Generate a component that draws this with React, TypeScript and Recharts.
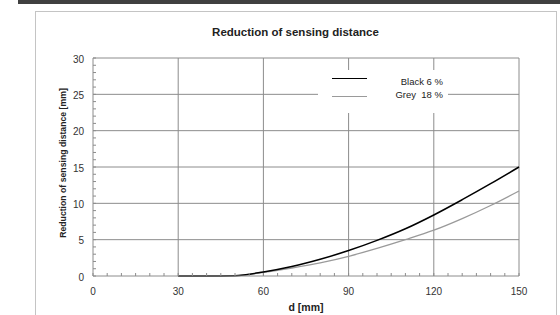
import React from 'react';
import { LineChart, Line, XAxis, YAxis, ReferenceLine } from 'recharts';

const distances = [30, 40, 50, 60, 70, 80, 90, 100, 110, 120, 130, 140, 150];
const black6 = [0, 0, 0.05, 0.55, 1.3, 2.3, 3.5, 4.9, 6.5, 8.4, 10.5, 12.7, 15.0];
const grey18 = [0, 0, 0.05, 0.5, 1.1, 1.8, 2.7, 3.8, 5.0, 6.3, 7.9, 9.7, 11.7];

const xTicks = [0, 5, 10, 15, 20, 25, 30, 35, 40, 45, 50, 55, 60, 65, 70, 75, 80, 85, 90, 95, 100, 105, 110, 115, 120, 125, 130, 135, 140, 145, 150];
const xMajor = [30, 60, 90, 120, 150];
const yTicks = [0, 1, 2, 3, 4, 5, 6, 7, 8, 9, 10, 11, 12, 13, 14, 15, 16, 17, 18, 19, 20, 21, 22, 23, 24, 25, 26, 27, 28, 29, 30];
const yMajor = [5, 10, 15, 20, 25, 30];

const data = distances.map((d, i) => ({ d, black: black6[i], grey: grey18[i] }));

const FONT = '"Liberation Sans", Arial, sans-serif';
const AXIS = '#8c8c8c';

const XTick = (props: any) => {
  const { x, y, payload } = props;
  const v = payload.value;
  return (
    <g transform={`translate(${x},${y})`}>
      <line x1={0} x2={0} y1={0} y2={-3} stroke={AXIS} strokeWidth={1} />
      {v % 30 === 0 && (
        <text x={0} y={19} textAnchor="middle" fontSize={10} fontFamily={FONT} fill="#333">
          {v}
        </text>
      )}
    </g>
  );
};

const YTick = (props: any) => {
  const { x, y, payload } = props;
  const v = payload.value;
  return (
    <g transform={`translate(${x},${y})`}>
      <line x1={0} x2={3} y1={0} y2={0} stroke={AXIS} strokeWidth={1} />
      {v % 5 === 0 && (
        <text x={-9} y={4.5} textAnchor="end" fontSize={10} fontFamily={FONT} fill="#333">
          {v}
        </text>
      )}
    </g>
  );
};

export default function App() {
  return (
    <div style={{ position: 'absolute', left: 0, top: 0, width: 560, height: 315, background: '#fff', overflow: 'hidden', fontFamily: FONT }}>
      <div style={{ position: 'absolute', left: 18, top: 0, width: 542, height: 4, background: '#404040' }} />
      <div style={{ position: 'absolute', left: 35, top: 11, width: 520, height: 320, border: '1px solid #c4c4c4' }} />
      <div style={{ position: 'absolute', left: 35, width: 521, top: 26, textAlign: 'center', fontWeight: 'bold', fontSize: 11.5, color: '#222' }}>
        Reduction of sensing distance
      </div>
      <div
        style={{
          position: 'absolute',
          left: 63 - 100,
          top: 163 - 6,
          width: 200,
          height: 12,
          lineHeight: '12px',
          textAlign: 'center',
          transform: 'rotate(-90deg)',
          fontWeight: 'bold',
          fontSize: 8.7,
          color: '#222',
        }}
      >
        Reduction of sensing distance [mm]
      </div>
      <div style={{ position: 'absolute', left: 0, top: 0 }}>
        <LineChart width={560} height={315} data={data} margin={{ top: 58, right: 41, bottom: 0, left: 0 }}>
          <XAxis
            dataKey="d"
            type="number"
            domain={[0, 150]}
            ticks={xTicks}
            interval={0}
            tick={<XTick />}
            tickLine={false}
            tickSize={0}
            tickMargin={0}
            axisLine={{ stroke: AXIS }}
            height={39}
            label={{ value: 'd [mm]', position: 'insideBottom', offset: 4, fontSize: 10.5, fontWeight: 'bold', fill: '#222', fontFamily: FONT }}
          />
          <YAxis
            type="number"
            domain={[0, 30]}
            ticks={yTicks}
            interval={0}
            tick={<YTick />}
            tickLine={false}
            tickSize={0}
            tickMargin={0}
            axisLine={{ stroke: AXIS }}
            width={93}
          />
          {xMajor.map((v) => (
            <ReferenceLine key={'x' + v} x={v} stroke={AXIS} strokeWidth={1} />
          ))}
          {yMajor.map((v) => (
            <ReferenceLine key={'y' + v} y={v} stroke={AXIS} strokeWidth={1} />
          ))}
          <Line type="monotone" dataKey="grey" stroke="#9a9a9a" strokeWidth={1.3} dot={false} isAnimationActive={false} />
          <Line type="monotone" dataKey="black" stroke="#000" strokeWidth={1.5} dot={false} isAnimationActive={false} />
        </LineChart>
      </div>
      <div style={{ position: 'absolute', left: 318, top: 70, width: 130, height: 43, background: '#fff', fontSize: 9.5, color: '#222' }}>
        <div style={{ position: 'absolute', left: 14, top: 8, width: 35, height: 0, borderTop: '1.5px solid #000' }} />
        <div style={{ position: 'absolute', left: 14, top: 26, width: 35, height: 0, borderTop: '1.3px solid #9a9a9a' }} />
        <div style={{ position: 'absolute', right: 5, top: 6, whiteSpace: 'pre', lineHeight: '11px' }}>Black 6 %</div>
        <div style={{ position: 'absolute', right: 5, top: 19, whiteSpace: 'pre', lineHeight: '11px' }}>Grey  18 %</div>
      </div>
    </div>
  );
}
